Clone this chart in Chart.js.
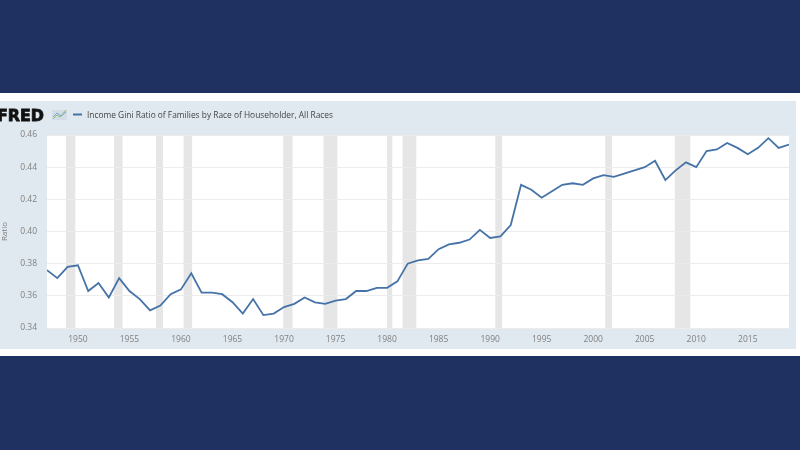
<!DOCTYPE html>
<html>
<head>
<meta charset="utf-8">
<script src="https://cdn.jsdelivr.net/npm/chart.js@4.4.1/dist/chart.umd.min.js"></script>
<style>
  body { margin: 0; background: #1f3161; }
  canvas { display: block; }
</style>
</head>
<body>
<canvas id="giniChart" width="800" height="450"></canvas>
<script>
// Income Gini ratio of families, all races (Census / FRED)
const years = [1947, 1948, 1949, 1950, 1951, 1952, 1953, 1954, 1955, 1956,
  1957, 1958, 1959, 1960, 1961, 1962, 1963, 1964, 1965, 1966,
  1967, 1968, 1969, 1970, 1971, 1972, 1973, 1974, 1975, 1976,
  1977, 1978, 1979, 1980, 1981, 1982, 1983, 1984, 1985, 1986,
  1987, 1988, 1989, 1990, 1991, 1992, 1993, 1994, 1995, 1996,
  1997, 1998, 1999, 2000, 2001, 2002, 2003, 2004, 2005, 2006,
  2007, 2008, 2009, 2010, 2011, 2012, 2013, 2014, 2015, 2016,
  2017, 2018, 2019];
const gini = [0.376, 0.371, 0.378, 0.379, 0.363, 0.368, 0.359, 0.371, 0.363, 0.358,
  0.351, 0.354, 0.361, 0.364, 0.374, 0.362, 0.362, 0.361, 0.356, 0.349,
  0.358, 0.348, 0.349, 0.353, 0.355, 0.359, 0.356, 0.355, 0.357, 0.358,
  0.363, 0.363, 0.365, 0.365, 0.369, 0.380, 0.382, 0.383, 0.389, 0.392,
  0.393, 0.395, 0.401, 0.396, 0.397, 0.404, 0.429, 0.426, 0.421, 0.425,
  0.429, 0.430, 0.429, 0.433, 0.435, 0.434, 0.436, 0.438, 0.440, 0.444,
  0.432, 0.438, 0.443, 0.440, 0.450, 0.451, 0.455, 0.452, 0.448, 0.452,
  0.458, 0.452, 0.454];

// NBER recessions (start / end as fractional years)
const recStart = [1948.83, 1953.50, 1957.58, 1960.25, 1969.92, 1973.83, 1980.00, 1981.50, 1990.50, 2001.17, 2007.92];
const recEnd   = [1949.75, 1954.33, 1958.25, 1961.08, 1970.83, 1975.17, 1980.50, 1982.83, 1991.17, 2001.83, 2009.42];

const xTicks = [1950, 1955, 1960, 1965, 1970, 1975, 1980, 1985, 1990, 1995, 2000, 2005, 2010, 2015];
const yTicks = [0.34, 0.36, 0.38, 0.40, 0.42, 0.44, 0.46];

const seriesName = "Income Gini Ratio of Families by Race of Householder, All Races";
const axisTitle = "Ratio";

const lineColor = "#4572a7";
const tickFont = { family: "'Open Sans', sans-serif", size: 8.5 };

// -------------------------------
// Background, recession bands, FRED header
// -------------------------------
const fredFrame = {
  id: "fredFrame",
  beforeDraw(chart) {
    const ctx = chart.ctx;
    const area = chart.chartArea;
    const x = chart.scales.x;

    ctx.save();
    ctx.fillStyle = "#1f3161";
    ctx.fillRect(0, 0, chart.width, chart.height);
    ctx.fillStyle = "#ffffff";
    ctx.fillRect(0, 93, chart.width, 263);
    ctx.fillStyle = "#e1e9f0";
    ctx.fillRect(0, 101, 796, 248);
    ctx.fillStyle = "#ffffff";
    ctx.fillRect(area.left, area.top, area.right - area.left, area.bottom - area.top);

    ctx.fillStyle = "#e6e6e6";
    recStart.forEach((s, i) => {
      const x0 = x.getPixelForValue(s);
      const x1 = x.getPixelForValue(recEnd[i]);
      ctx.fillRect(x0, area.top, x1 - x0, area.bottom - area.top);
    });

    // FRED logo
    ctx.fillStyle = "#111111";
    ctx.font = "bold 16px 'DejaVu Sans', sans-serif";
    ctx.textBaseline = "alphabetic";
    ctx.textAlign = "left";
    const w = ctx.measureText("FRED").width;
    ctx.save();
    ctx.translate(-3, 120.5);
    ctx.scale(47 / w, 1);
    ctx.fillText("FRED", 0, 0);
    ctx.lineWidth = 0.8;
    ctx.strokeStyle = "#111111";
    ctx.strokeText("FRED", 0, 0);
    ctx.restore();

    // little chart icon
    ctx.fillStyle = "#d3dde6";
    ctx.fillRect(52, 110, 15, 10);
    ctx.lineWidth = 1;
    ctx.strokeStyle = "#8cc06c";
    ctx.beginPath();
    ctx.moveTo(53, 119); ctx.lineTo(57, 115); ctx.lineTo(60, 117); ctx.lineTo(66, 110);
    ctx.stroke();
    ctx.strokeStyle = "#7ba3c9";
    ctx.beginPath();
    ctx.moveTo(53, 117); ctx.lineTo(57, 113); ctx.lineTo(61, 116); ctx.lineTo(66, 112);
    ctx.stroke();

    // legend
    ctx.strokeStyle = lineColor;
    ctx.lineWidth = 2;
    ctx.beginPath();
    ctx.moveTo(73, 114.5);
    ctx.lineTo(82, 114.5);
    ctx.stroke();

    ctx.fillStyle = "#444444";
    ctx.font = "9.5px 'Open Sans', sans-serif";
    const lw = ctx.measureText(seriesName).width;
    ctx.save();
    ctx.translate(87, 115);
    ctx.scale(246 / lw, 1);
    ctx.textBaseline = "middle";
    ctx.fillText(seriesName, 0, 0);
    ctx.restore();

    // y axis title
    ctx.save();
    ctx.translate(5, (area.top + area.bottom) / 2);
    ctx.rotate(-Math.PI / 2);
    ctx.fillStyle = "#808080";
    ctx.font = "8px 'Open Sans', sans-serif";
    ctx.textAlign = "center";
    ctx.textBaseline = "middle";
    ctx.fillText(axisTitle, 0, 0);
    ctx.restore();

    ctx.restore();
  }
};

new Chart(document.getElementById("giniChart"), {
  type: "line",
  data: {
    datasets: [{
      label: seriesName,
      data: years.map((y, i) => ({ x: y, y: gini[i] })),
      borderColor: lineColor,
      borderWidth: 1.8,
      pointRadius: 0,
      tension: 0,
      fill: false
    }]
  },
  options: {
    responsive: false,
    animation: false,
    devicePixelRatio: 1,
    layout: { padding: { left: 0, right: 11, top: 135, bottom: 100 } },
    plugins: { legend: { display: false }, tooltip: { enabled: false } },
    scales: {
      x: {
        type: "linear",
        min: 1947,
        max: 2019,
        afterBuildTicks: s => { s.ticks = xTicks.map(v => ({ value: v })); },
        afterFit: s => { s.height = 22; },
        grid: { display: false, drawTicks: false },
        border: { display: false },
        ticks: {
          color: "#808080",
          font: tickFont,
          padding: 6,
          autoSkip: false,
          maxRotation: 0,
          callback: v => String(v)
        }
      },
      y: {
        min: 0.34,
        max: 0.46,
        afterBuildTicks: s => { s.ticks = yTicks.map(v => ({ value: v })); },
        afterFit: s => { s.width = 47; },
        grid: { color: "#ececec", drawTicks: false },
        border: { display: false },
        ticks: {
          color: "#808080",
          font: tickFont,
          padding: 10,
          callback: v => v.toFixed(2)
        }
      }
    }
  },
  plugins: [fredFrame]
});
</script>
</body>
</html>
